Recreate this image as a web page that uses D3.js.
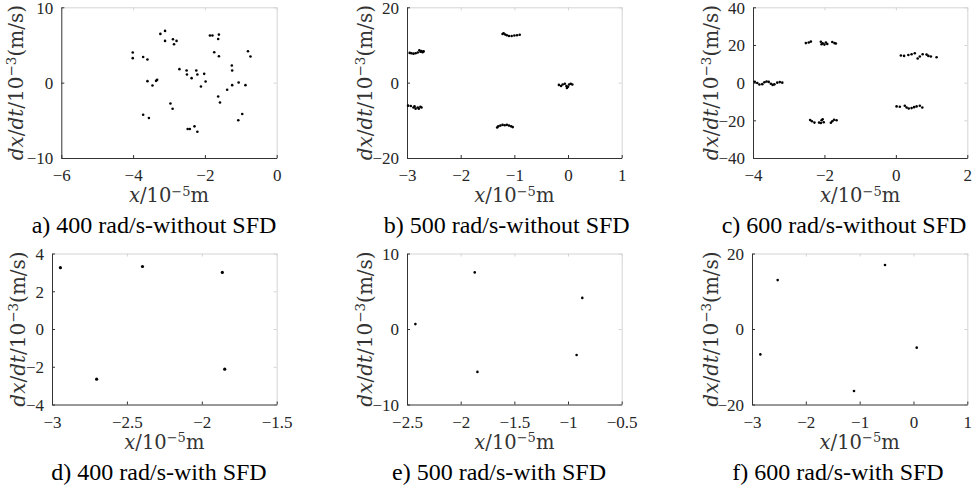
<!DOCTYPE html>
<html>
<head>
<meta charset="utf-8">
<script src="https://cdn.jsdelivr.net/npm/d3@7"></script>
<style>
  body { margin: 0; background: #fff; }
  svg { display: block; }
</style>
</head>
<body>
<script>
// phase points, x in 1e-5 m, dx/dt in 1e-3 m/s
var ptsA = [[-4.01,4.0],[-4.01,3.25],[-3.72,3.4],[-3.6,3.07],[-3.6,0.2],[-3.46,-0.37],[-3.36,0.24],[-3.33,0.37],
  [-3.72,-4.26],[-3.56,-4.7],[-3.24,6.47],[-3.11,6.87],[-3.11,5.54],[-2.89,5.76],[-2.79,5.54],[-2.86,5.1],
  [-2.71,1.79],[-2.96,-2.76],[-2.9,-3.47],[-2.51,1.61],[-2.5,1.08],[-2.37,0.6],[-2.48,-6.16],[-2.42,-6.16],
  [-2.29,-5.8],[-2.21,-6.51],[-2.24,1.61],[-2.21,1.08],[-2.02,1.17],[-1.98,0.15],[-2.11,-0.51],[-1.86,6.25],
  [-1.79,6.25],[-1.74,4.04],[-1.63,-1.83],[-1.58,-2.63],[-1.61,3.51],[-1.61,6.38],[-1.63,5.8],[-1.38,-0.95],
  [-1.25,2.27],[-1.24,1.61],[-1.24,-0.33],[-1.06,0.02],[-0.87,-0.33],[-1.07,-5.0],[-0.96,-4.17],[-0.8,4.17],
  [-0.73,3.47]];
var ptsB = [[-2.95,7.9],[-2.92,7.8],[-2.88,7.7],[-2.84,7.8],[-2.80,8.0],[-2.77,8.6],[-2.75,8.2],[-2.73,8.4],[-2.71,8.1],[-2.69,8.3],
  [-2.98,-6.1],[-2.93,-6.2],[-2.88,-6.6],[-2.84,-6.9],[-2.80,-6.6],[-2.78,-6.9],[-2.75,-6.4],[-2.73,-6.6],[-2.86,-6.3],
  [-1.22,12.9],[-1.20,13.1],[-1.17,12.8],[-1.14,12.6],[-1.10,12.4],[-1.05,12.4],[-1.00,12.5],[-0.95,12.6],[-0.90,12.7],
  [-1.32,-11.9],[-1.30,-11.6],[-1.26,-11.4],[-1.22,-11.2],[-1.18,-11.3],[-1.14,-11.2],[-1.10,-11.4],[-1.06,-11.6],[-1.03,-11.8],
  [-0.17,-0.6],[-0.13,-0.9],[-0.10,-0.5],[-0.06,-0.3],[-0.03,-0.9],[-0.02,-1.4],[0.02,-0.5],[0.05,-0.3],[0.08,-0.5],[0.00,-1.1]];
var ptsC = [[-3.95,0.5],[-3.88,-0.2],[-3.82,-1.0],[-3.74,-0.8],[-3.68,0.2],[-3.62,0.6],[-3.56,0.4],[-3.5,-0.6],[-3.45,-1.2],
  [-3.4,-0.9],[-3.32,0.0],[-3.25,0.3],[-3.18,0.0],
  [-2.52,21.0],[-2.44,21.3],[-2.38,21.8],[-2.1,21.7],[-2.05,20.9],[-2.0,20.2],[-1.96,21.3],[-1.92,20.5],[-1.78,21.6],
  [-1.72,21.0],[-1.68,20.8],[-2.08,20.4],
  [-2.40,-19.8],[-2.35,-20.5],[-2.28,-21.2],[-2.15,-21.2],[-2.08,-20.0],[-2.05,-19.4],[-2.02,-21.0],[-1.82,-21.3],
  [-1.78,-20.5],[-1.73,-19.7],[-1.66,-20.0],[-2.1,-21.4],
  [0.14,14.4],[0.23,14.2],[0.35,14.7],[0.44,15.1],[0.53,15.6],[0.61,12.8],[0.67,13.9],[0.75,15.1],[0.86,14.9],
  [0.91,14.2],[0.98,13.9],[1.14,13.5],
  [0.02,-12.6],[0.11,-12.8],[0.25,-12.3],[0.30,-13.2],[0.36,-13.7],[0.44,-13.5],[0.51,-13.0],[0.58,-12.6],
  [0.67,-12.3],[0.74,-13.2]];
var ptsD = [[-2.944,3.25],[-2.396,3.31],[-1.863,3.0],[-2.702,-2.66],[-1.847,-2.13]];
var ptsE = [[-2.422,0.65],[-1.869,7.5],[-1.844,-5.68],[-0.867,4.12],[-0.92,-3.45]];
var ptsF = [[-2.845,-6.73],[-2.523,12.96],[-0.529,16.97],[-1.105,-16.44],[0.06,-4.94]];

var xTicksA = [-6, -4, -2, 0],        yTicksA = [-10, 0, 10];
var xTicksB = [-3, -2, -1, 0, 1],     yTicksB = [-20, 0, 20];
var xTicksC = [-4, -2, 0, 2],         yTicksC = [-40, -20, 0, 20, 40];
var xTicksD = [-3, -2.5, -2, -1.5],   yTicksD = [-4, -2, 0, 2, 4];
var xTicksE = [-2.5, -2, -1.5, -1, -0.5], yTicksE = [-10, 0, 10];
var xTicksF = [-3, -2, -1, 0, 1],     yTicksF = [-20, 0, 20];

var captions = ["a) 400 rad/s-without SFD", "b) 500 rad/s-without SFD", "c) 600 rad/s-without SFD",
                "d) 400 rad/s-with SFD", "e) 500 rad/s-with SFD", "f) 600 rad/s-with SFD"];

var panels = [
  {pts: ptsA, xt: xTicksA, yt: yTicksA, box: [61.3, 276.7, 7.3, 158], ylx: 23, capx: 154},
  {pts: ptsB, xt: xTicksB, yt: yTicksB, box: [407, 621.7, 7.3, 158], ylx: 372, capx: 506.7},
  {pts: ptsC, xt: xTicksC, yt: yTicksC, box: [753, 967.3, 7.3, 158], ylx: 718, capx: 844},
  {pts: ptsD, xt: xTicksD, yt: yTicksD, box: [52, 276.7, 253.5, 404.5], ylx: 25, capx: 159, r: 1.6},
  {pts: ptsE, xt: xTicksE, yt: yTicksE, box: [407, 621.7, 253.5, 404.5], ylx: 372, capx: 499},
  {pts: ptsF, xt: xTicksF, yt: yTicksF, box: [752, 967.3, 253.5, 404.5], ylx: 718, capx: 838}
];

var svg = d3.select('body')
  .append('svg')
  .attr('width', 977)
  .attr('height', 486);

var tickFont = '17px "Liberation Serif", "Times New Roman", serif';
var labFont = '"DejaVu Serif", serif';

function styleAxis(sel, col) {
  sel.select('.domain').attr('stroke', col).attr('stroke-width', 1);
  sel.selectAll('.tick line').attr('stroke', col).attr('stroke-width', 1);
}

panels.forEach(function(p, i) {
  var L = p.box[0], R = p.box[1], T = p.box[2], B = p.box[3];
  var x = d3.scaleLinear().domain(d3.extent(p.xt)).range([L, R]);
  var y = d3.scaleLinear().domain(d3.extent(p.yt)).range([B, T]);
  var g = svg.append('g');

  // light box on top and right
  var top = g.append('g').attr('transform', 'translate(0,' + T + ')')
    .call(d3.axisTop(x).tickValues(p.xt).tickSizeInner(-3).tickSizeOuter(0).tickFormat(''));
  styleAxis(top, '#d4d4d4');
  var right = g.append('g').attr('transform', 'translate(' + R + ',0)')
    .call(d3.axisRight(y).tickValues(p.yt).tickSizeInner(-3).tickSizeOuter(0).tickFormat(''));
  styleAxis(right, '#d4d4d4');

  var bottom = g.append('g').attr('transform', 'translate(0,' + B + ')')
    .call(d3.axisBottom(x).tickValues(p.xt).tickSizeInner(-3).tickSizeOuter(0).tickFormat(d3.format('')));
  styleAxis(bottom, '#333');
  bottom.selectAll('text').attr('y', 23.2).attr('dy', null)
    .style('font', tickFont).attr('fill', '#262626');

  var left = g.append('g').attr('transform', 'translate(' + L + ',0)')
    .call(d3.axisLeft(y).tickValues(p.yt).tickSizeInner(-3).tickSizeOuter(0).tickPadding(8).tickFormat(d3.format('')));
  styleAxis(left, '#333');
  left.selectAll('text').attr('dy', '0.35em')
    .style('font', tickFont).attr('fill', '#262626');

  // points
  g.append('g').selectAll('circle')
    .data(p.pts)
    .enter()
    .append('circle')
    .attr('cx', function(d) { return x(d[0]); })
    .attr('cy', function(d) { return y(d[1]); })
    .attr('r', p.r || 1.3)
    .attr('fill', '#000');

  // x label
  var xl = g.append('text')
    .attr('x', (L + R) / 2)
    .attr('y', B + 44)
    .attr('text-anchor', 'middle')
    .style('font-family', labFont)
    .style('font-size', '19.5px')
    .attr('fill', '#333');
  xl.append('tspan').attr('font-style', 'italic').text('x');
  xl.append('tspan').text('/10');
  xl.append('tspan').attr('dy', -6.5).style('font-size', '13px').text('\u22125');
  xl.append('tspan').attr('dy', 6.5).text('m');

  // y label
  var yl = g.append('text')
    .attr('transform', 'translate(' + p.ylx + ',' + (T + B) / 2 + ') rotate(-90)')
    .attr('text-anchor', 'middle')
    .style('font-family', labFont)
    .style('font-size', '20px')
    .attr('fill', '#333');
  yl.append('tspan').attr('font-style', 'italic').text('dx');
  yl.append('tspan').text('/');
  yl.append('tspan').attr('font-style', 'italic').text('dt');
  yl.append('tspan').text('/10');
  yl.append('tspan').attr('dy', -7).style('font-size', '13.5px').text('\u22123');
  yl.append('tspan').attr('dy', 7).text('(m/s)');

  // caption
  g.append('text')
    .attr('x', p.capx)
    .attr('y', B + 75.3)
    .attr('text-anchor', 'middle')
    .style('font', '24px "Liberation Serif", "Times New Roman", serif')
    .attr('fill', '#000')
    .text(captions[i]);
});
</script>
</body>
</html>
